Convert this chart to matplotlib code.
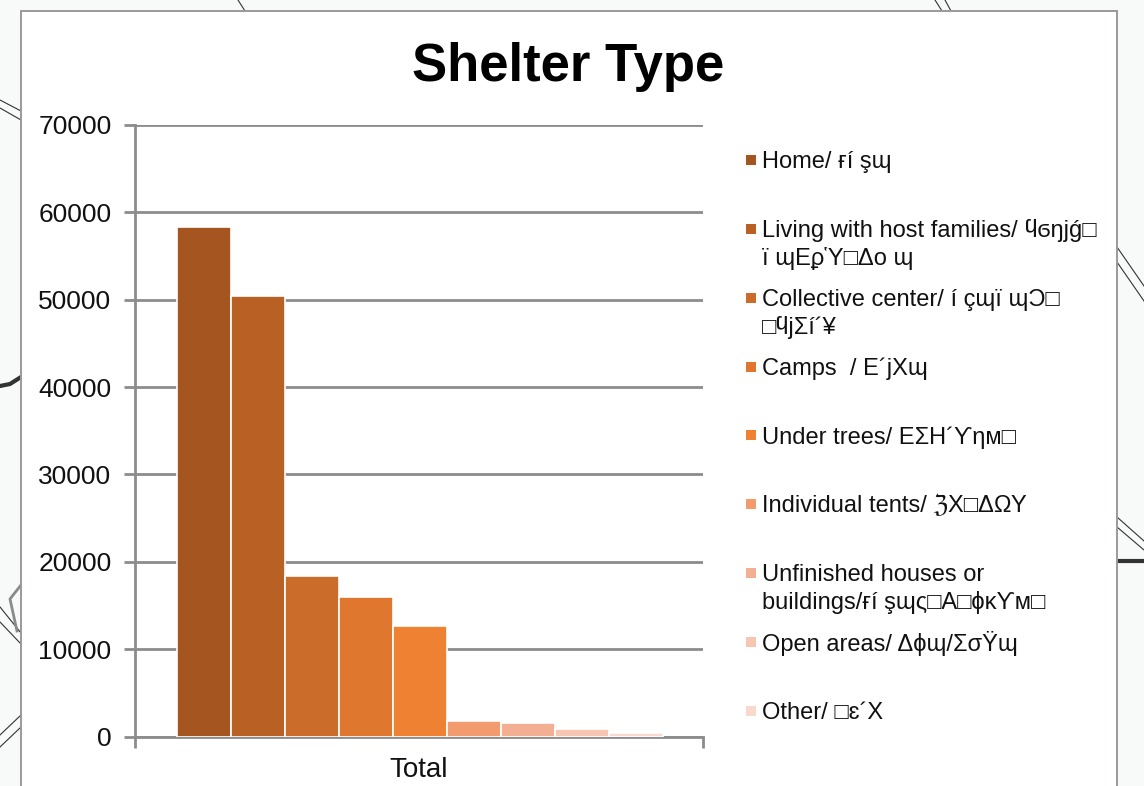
import matplotlib
matplotlib.use("Agg")
import matplotlib.pyplot as plt
from matplotlib.patches import Rectangle
import numpy as np

W, H = 1144, 786
plt.rcParams['font.family'] = ['Liberation Sans', 'DejaVu Sans']

title = "Shelter Type"
category = "Total"
labels = [
    "Home/ ғí şɰ",
    "Living with host families/ ϥϭŋjǵ□\nï ɰEϼὙ□Δo ɰ",
    "Collective center/ í çɰï ɰϽ□\n□ϥjΣí´¥",
    "Camps  / E´jXɰ",
    "Under trees/ EΣH´ϒηм□",
    "Individual tents/ ℨX□ΔΩΥ",
    "Unfinished houses or\nbuildings/ғí şɰς□A□ϕκϒм□",
    "Open areas/ Δϕɰ/ΣσΫɰ",
    "Other/ □ɛ´X",
]
values = [58300, 50400, 18400, 16000, 12600, 1800, 1500, 900, 400]
colors = ["#a5551f", "#b96025", "#cc6c2a", "#df772e", "#ee8232",
          "#f29b6f", "#f4af93", "#f7c6b3", "#f9d9cd"]
yticks = [0, 10000, 20000, 30000, 40000, 50000, 60000, 70000]

# decorative map outlines behind the panel, in image pixels
thin_lines = [
    ([0, 21], [100, 111]), ([0, 21], [108, 120]),
    ([238, 245], [0, 11]), ([935, 942], [0, 11]), ([945, 951], [0, 11]),
    ([1117, 1144], [247, 286]), ([1117, 1144], [262, 301]),
    ([1117, 1144], [517, 541]), ([1117, 1144], [527, 550]),
    ([0, 21], [607, 633]), ([0, 21], [622, 644]),
    ([0, 21], [735, 715]), ([0, 21], [747, 727]),
]
thick_lines = [
    ([0, 10, 21], [386, 384, 377]),
    ([1117, 1144], [561, 561]),
]
gray_line = ([21, 10, 17], [585, 599, 631])

fig = plt.figure(figsize=(W / 100, H / 100), dpi=100, facecolor="#f8f9f9")

bg = fig.add_axes([0, 0, 1, 1], zorder=0)
bg.set_xlim(0, W)
bg.set_ylim(H, 0)
bg.axis("off")
for xs, ys in thin_lines:
    bg.plot(xs, ys, color="#333333", lw=0.8)
for xs, ys in thick_lines:
    bg.plot(xs, ys, color="#333333", lw=3)
bg.plot(*gray_line, color="#8a8a8a", lw=2)
bg.add_patch(Rectangle((21, 11), 1096, 790, facecolor="white", edgecolor="#9a9a9a", lw=1.4, zorder=3))

ax = fig.add_axes([135 / W, 1 - 736.5 / H, 568 / W, 611.5 / H], zorder=1)
ax.patch.set_alpha(0)
ax.set_ylim(0, 70000)
ax.set_xlim(0, 1)
n = len(values)
step = 54.1 / 568
start = 176.5 / 568 - 135 / 568
for i, (v, c) in enumerate(zip(values, colors)):
    ax.bar(start + i * step, v, width=step, align="edge", color=c,
           edgecolor="white", linewidth=1.2, zorder=3)
ax.set_yticks(yticks)
ax.set_xticks([0, 1])
ax.set_xticklabels(["", ""])
ax.tick_params(axis="both", length=8, width=2, color="#8c8c8c", labelsize=19,
               labelcolor="#111111", pad=9)
ax.grid(axis="y", color="#8c8c8c", lw=2, zorder=1)
ax.set_axisbelow(True)
for s in ("top", "right"):
    ax.spines[s].set_visible(False)
for s in ("left", "bottom"):
    ax.spines[s].set_color("#8c8c8c")
    ax.spines[s].set_linewidth(2)
ax.text(0.5, -0.0548, category, transform=ax.transAxes, ha="center", va="center",
        fontsize=20, color="#111111")

fig.text(568.5 / W, 1 - 67 / H, title, ha="center", va="center",
         fontsize=38, fontweight="bold", color="black")

first_y = 160
row = 68.85
line = 27.6
for i, (lab, c) in enumerate(zip(labels, colors)):
    y = first_y + i * row
    fig.patches.append(Rectangle((746 / W, 1 - (y + 5) / H), 10 / W, 10 / H,
                                 transform=fig.transFigure, facecolor=c,
                                 edgecolor="none", zorder=5))
    for j, part in enumerate(lab.split("\n")):
        fig.text(762 / W, 1 - (y + 2 + j * line) / H, part, ha="left", va="center",
                 fontsize=17, color="#111111", zorder=6)

fig.savefig("out.png", dpi=100, facecolor=fig.get_facecolor())
